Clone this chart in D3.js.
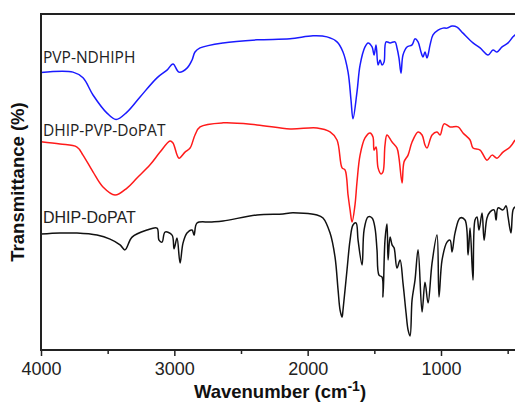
<!DOCTYPE html>
<html>
<head>
<meta charset="utf-8">
<script src="https://cdn.jsdelivr.net/npm/d3@7"></script>
<style>
  html, body { margin: 0; padding: 0; background: #fff; }
  svg { display: block; }
</style>
</head>
<body>
<div id="chart"></div>
<script>
const xTicksMajor = [4000, 3000, 2000, 1000];
const xTicksMinor = [3500, 2500, 1500, 500];

const pvpNdhiph = [
  [4000, 82.6], [3760, 82.7], [3685, 81.0], [3610, 75.9], [3505, 70.5], [3437, 68.6],
  [3355, 70.8], [3257, 75.3], [3130, 81.0], [3055, 83.3], [3010, 85.1], [2965, 82.7],
  [2905, 83.9], [2867, 86.3], [2845, 88.7], [2807, 89.9], [2635, 91.4], [2380, 92.3],
  [2132, 92.6], [1960, 93.5], [1855, 93.2], [1780, 91.7], [1735, 88.7], [1697, 82.7],
  [1675, 74.4], [1660, 68.8], [1630, 76.8], [1607, 84.8], [1570, 90.2], [1547, 91.4],
  [1517, 90.2], [1502, 87.8], [1487, 90.8], [1472, 84.8], [1457, 86.3], [1442, 84.8],
  [1427, 85.7], [1412, 91.7], [1382, 91.4], [1345, 91.7], [1330, 89.9], [1315, 86.9],
  [1300, 82.4], [1285, 87.8], [1255, 90.2], [1217, 90.8], [1195, 92.6], [1172, 91.7],
  [1150, 88.7], [1135, 87.2], [1120, 88.7], [1105, 86.9], [1097, 87.8], [1082, 90.8],
  [1060, 93.8], [1022, 95.2], [985, 95.8], [955, 95.8], [917, 96.4], [880, 96.1],
  [835, 94.3], [760, 91.4], [707, 89.9], [647, 87.8], [610, 89.3], [580, 88.7],
  [542, 90.2], [497, 91.4], [460, 93.2], [437, 94.0]
];

const dhipPvpDopat = [
  [4000, 62.0], [3857, 61.3], [3730, 60.4], [3685, 58.0], [3610, 53.0], [3535, 48.5],
  [3445, 46.1], [3355, 48.2], [3280, 51.2], [3182, 55.1], [3107, 58.9], [3032, 62.2],
  [3010, 61.6], [2965, 57.1], [2920, 58.9], [2882, 60.1], [2845, 64.0], [2807, 66.4],
  [2635, 67.6], [2380, 67.0], [2132, 65.8], [1930, 66.1], [1832, 64.9], [1780, 62.5],
  [1742, 54.2], [1720, 53.6], [1697, 46.1], [1682, 41.7], [1667, 38.1], [1645, 43.2],
  [1630, 50.0], [1607, 58.0], [1570, 63.1], [1532, 64.6], [1510, 63.4], [1502, 59.5],
  [1487, 60.4], [1472, 54.2], [1450, 52.4], [1435, 53.0], [1420, 61.0], [1405, 64.0],
  [1367, 61.9], [1330, 60.1], [1315, 57.1], [1292, 49.7], [1277, 56.0], [1247, 58.0],
  [1217, 61.9], [1172, 64.9], [1142, 64.0], [1120, 61.0], [1105, 60.1], [1067, 64.0],
  [1030, 64.9], [1007, 64.0], [977, 67.3], [932, 66.4], [872, 66.4], [835, 64.6],
  [782, 62.5], [760, 60.1], [707, 59.5], [655, 56.5], [617, 58.0], [580, 57.1],
  [535, 58.9], [482, 60.4], [445, 62.5]
];

const dhipDopat = [
  [4000, 34.5], [3857, 34.8], [3730, 34.8], [3580, 34.2], [3482, 33.0], [3407, 31.3],
  [3370, 29.8], [3317, 33.6], [3205, 35.7], [3130, 36.3], [3115, 32.7], [3092, 32.1],
  [3070, 35.1], [3017, 34.2], [3002, 30.1], [2980, 33.3], [2957, 25.9], [2935, 31.8],
  [2905, 34.8], [2867, 35.7], [2852, 34.2], [2830, 37.8], [2732, 38.1], [2635, 38.4],
  [2380, 40.2], [2185, 40.5], [2132, 40.8], [1930, 40.2], [1885, 39.3], [1832, 34.8],
  [1795, 27.7], [1772, 17.9], [1757, 11.9], [1742, 9.8], [1735, 11.9], [1705, 23.8],
  [1682, 32.7], [1660, 37.2], [1637, 37.8], [1622, 32.7], [1592, 25.3], [1577, 35.7],
  [1547, 39.6], [1517, 39.3], [1495, 36.3], [1480, 29.8], [1465, 22.3], [1442, 21.7],
  [1435, 15.8], [1420, 32.7], [1405, 37.5], [1397, 26.8], [1382, 33.6], [1367, 31.3],
  [1352, 30.4], [1330, 24.4], [1307, 26.8], [1285, 19.9], [1262, 11.0], [1247, 6.0],
  [1232, 4.2], [1217, 14.9], [1195, 20.8], [1172, 29.8], [1142, 11.3], [1120, 20.2],
  [1097, 14.0], [1067, 25.9], [1030, 34.2], [1015, 15.8], [992, 26.8], [955, 32.1],
  [932, 32.7], [917, 29.2], [895, 34.8], [857, 39.3], [820, 38.7], [797, 28.3],
  [782, 36.3], [760, 20.8], [745, 38.7], [730, 39.6], [715, 35.7], [692, 40.8],
  [677, 32.7], [655, 39.3], [632, 41.1], [602, 41.7], [587, 38.7], [572, 42.3],
  [535, 41.7], [512, 42.9], [497, 39.6], [475, 34.8], [460, 41.7], [445, 42.6]
];

const seriesNames = ["PVP-NDHIPH", "DHIP-PVP-DoPAT", "DHIP-DoPAT"];
const seriesColors = ["#1a1aff", "#ff1a1a", "#111111"];
const seriesData = [pvpNdhiph, dhipPvpDopat, dhipDopat];
const labelValues = [85.5, 63.8, 37.8];

// --- Configuracion del SVG ---
const width = 515, height = 403;
const margin = { top: 14, left: 41, bottom: 350 };

const svg = d3.select("#chart").append("svg")
  .attr("width", width)
  .attr("height", height);

const x = d3.scaleLinear().domain([4000, 400]).range([margin.left, 521]);
const y = d3.scaleLinear().domain([0, 100]).range([margin.bottom, margin.top]);

const line = d3.line()
  .curve(d3.curveCatmullRom.alpha(0.5))
  .x(d => x(d[0]))
  .y(d => y(d[1]));

// --- Curvas ---
seriesData.forEach((data, i) => {
  svg.append("path")
    .datum(data)
    .attr("fill", "none")
    .attr("stroke", seriesColors[i])
    .attr("stroke-width", 1.5)
    .attr("stroke-linejoin", "round")
    .attr("d", line);
});

// --- Etiquetas de las series ---
svg.selectAll("text.series")
  .data(seriesNames)
  .enter()
  .append("text")
  .attr("class", "series")
  .attr("x", 43)
  .attr("y", (d, i) => y(labelValues[i]))
  .style("font-family", (d, i) => i === 2 ? "'Liberation Sans', Arial, sans-serif" : "'Open Sans', sans-serif")
  .style("font-size", (d, i) => i === 2 ? "16px" : "15.5px")
  .style("fill", "#222")
  .text(d => d);

// --- Ejes ---
const xAxis = d3.axisBottom(x)
  .tickValues(xTicksMajor)
  .tickFormat(d3.format("d"))
  .tickSize(6)
  .tickSizeOuter(0);
const gx = svg.append("g")
  .attr("transform", `translate(0,${margin.bottom})`)
  .call(xAxis);
gx.select(".domain").remove();
gx.selectAll(".tick line").attr("stroke", "#222").attr("stroke-width", 1.5);
gx.selectAll(".tick text")
  .attr("dy", "0.9em")
  .style("font-family", "'Liberation Sans', Arial, sans-serif")
  .style("font-size", "18px")
  .style("fill", "#222");

const gxMinor = svg.append("g")
  .attr("transform", `translate(0,${margin.bottom})`)
  .call(d3.axisBottom(x).tickValues(xTicksMinor).tickSize(4).tickFormat(""));
gxMinor.select(".domain").remove();
gxMinor.selectAll(".tick line").attr("stroke", "#222").attr("stroke-width", 1.5);

// marco: eje inferior, izquierdo y superior
svg.append("path")
  .attr("d", `M${width},${margin.top}H${margin.left}V${margin.bottom}H${width}`)
  .attr("fill", "none")
  .attr("stroke", "#222")
  .attr("stroke-width", 2);

// --- Titulos de los ejes ---
const xTitle = svg.append("text")
  .attr("x", 280)
  .attr("y", 398)
  .attr("text-anchor", "middle")
  .style("font-family", "'Liberation Sans', Arial, sans-serif")
  .style("font-weight", "bold")
  .style("font-size", "18.5px")
  .style("fill", "#111");
xTitle.append("tspan").text("Wavenumber (cm");
xTitle.append("tspan").attr("dy", -7).style("font-size", "14px").text("-1");
xTitle.append("tspan").attr("dy", 7).text(")");

svg.append("text")
  .attr("transform", `translate(24,${(margin.top + margin.bottom) / 2}) rotate(-90)`)
  .attr("text-anchor", "middle")
  .style("font-family", "'Liberation Sans', Arial, sans-serif")
  .style("font-weight", "bold")
  .style("font-size", "18.5px")
  .style("fill", "#111")
  .text("Transmittance (%)");
</script>
</body>
</html>
